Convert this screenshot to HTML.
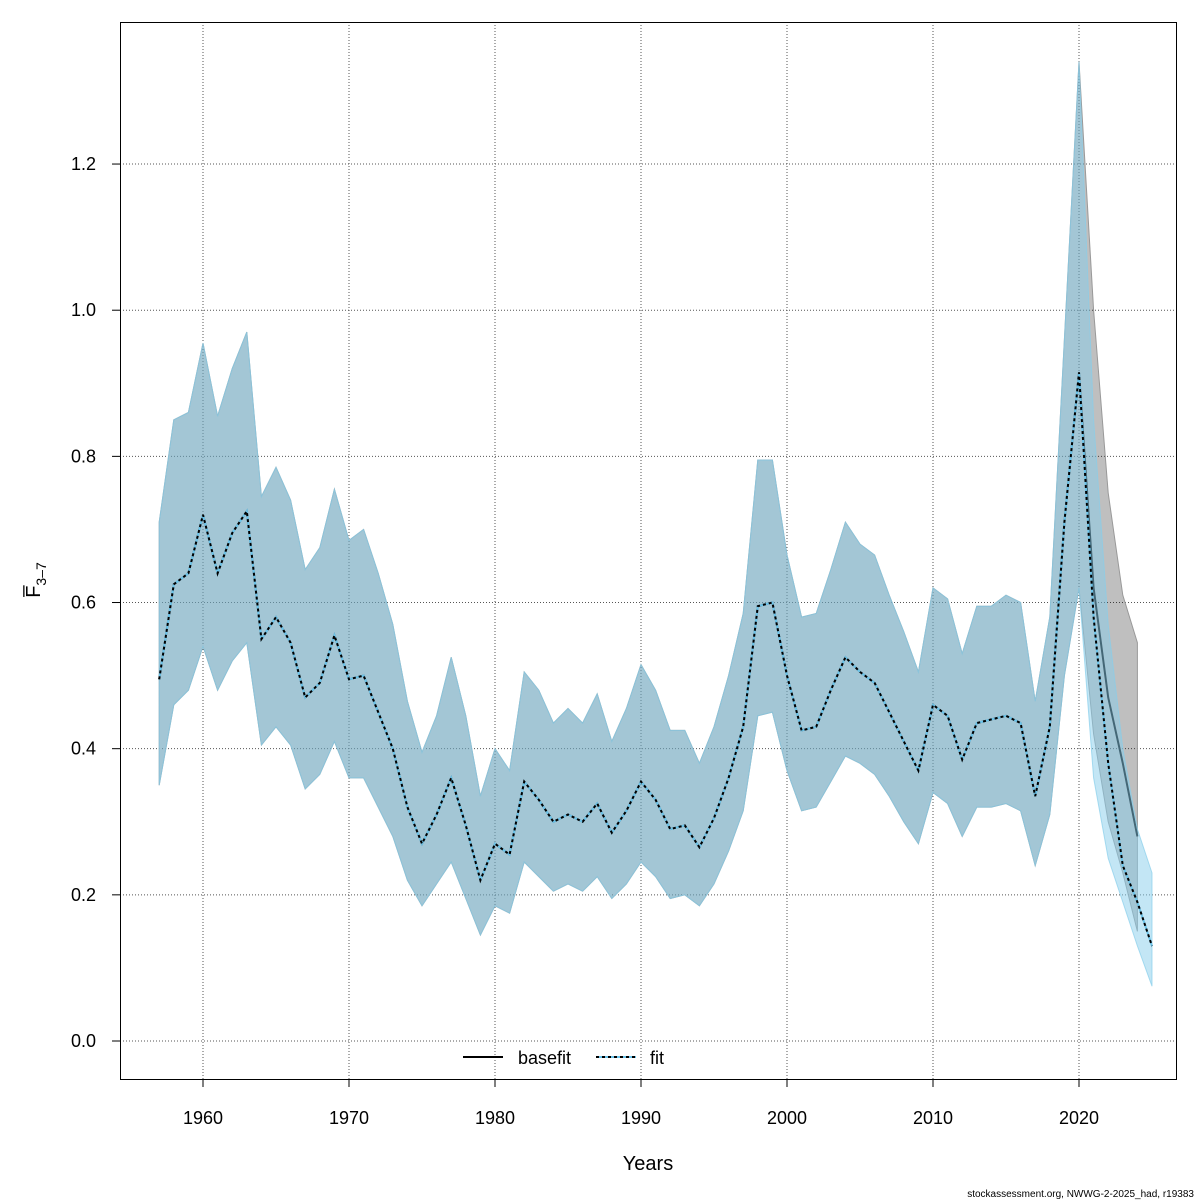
<!DOCTYPE html>
<html><head><meta charset="utf-8"><style>body{margin:0;background:#fff}svg{display:block}text{font-family:"Liberation Sans",sans-serif}</style></head>
<body>
<svg id="s" width="1200" height="1200" xmlns="http://www.w3.org/2000/svg"></svg>
<script>
const X=y=>203+(y-1960)*14.6, Y=v=>1041-v*730.8;
const mean=[0.495,0.625,0.64,0.72,0.64,0.695,0.725,0.55,0.58,0.545,0.47,0.49,0.555,0.495,0.5,0.45,0.4,0.32,0.27,0.31,0.36,0.295,0.22,0.27,0.255,0.355,0.33,0.3,0.31,0.3,0.325,0.285,0.315,0.355,0.33,0.29,0.295,0.265,0.305,0.36,0.43,0.595,0.6,0.5,0.425,0.43,0.48,0.525,0.505,0.49,0.45,0.41,0.37,0.46,0.445,0.385,0.435,0.44,0.445,0.435,0.335,0.43,0.71,0.915];
const up=[0.71,0.85,0.86,0.955,0.855,0.92,0.97,0.745,0.785,0.74,0.645,0.675,0.755,0.685,0.7,0.64,0.57,0.465,0.395,0.445,0.525,0.445,0.335,0.4,0.37,0.505,0.48,0.435,0.455,0.435,0.475,0.41,0.455,0.515,0.48,0.425,0.425,0.38,0.43,0.5,0.585,0.795,0.795,0.665,0.58,0.585,0.645,0.71,0.68,0.665,0.61,0.56,0.505,0.62,0.605,0.53,0.595,0.595,0.61,0.6,0.465,0.58,0.96,1.34];
const lo=[0.35,0.46,0.48,0.54,0.48,0.52,0.545,0.405,0.43,0.405,0.345,0.365,0.41,0.36,0.36,0.32,0.28,0.22,0.185,0.215,0.245,0.195,0.145,0.185,0.175,0.245,0.225,0.205,0.215,0.205,0.225,0.195,0.215,0.245,0.225,0.195,0.2,0.185,0.215,0.26,0.315,0.445,0.45,0.37,0.315,0.32,0.355,0.39,0.38,0.365,0.335,0.3,0.27,0.34,0.325,0.28,0.32,0.32,0.325,0.315,0.24,0.31,0.5,0.62];
const bm=mean.concat([0.62,0.47,0.38,0.28]), bu=up.concat([1.0,0.75,0.61,0.545]), bl=lo.concat([0.42,0.3,0.23,0.15]);
const fm=mean.concat([0.58,0.38,0.24,0.19,0.13]), fu=up.concat([0.85,0.57,0.4,0.29,0.23]), fl=lo.concat([0.36,0.25,0.19,0.13,0.075]);
const pts=a=>a.map((v,i)=>X(1957+i).toFixed(1)+","+Y(v).toFixed(1));
const poly=(u,l)=>pts(u).concat(pts(l).reverse()).join(" ");
let h='';
for(let y=1960;y<=2020;y+=10)h+=`<line x1="${X(y)}" y1="22" x2="${X(y)}" y2="1079" stroke="#555" stroke-width="1" stroke-dasharray="1,2"/>`;
for(let v=0;v<=1.21;v+=0.2)h+=`<line x1="120" y1="${Y(v)}" x2="1176" y2="${Y(v)}" stroke="#555" stroke-width="1" stroke-dasharray="1,2"/>`;
h+=`<polygon points="${poly(bu,bl)}" fill="rgba(0,0,0,0.25)" stroke="#999" stroke-width="1"/>`;
h+=`<polyline points="${pts(bm).join(" ")}" fill="none" stroke="#000" stroke-width="2"/>`;
h+=`<polygon points="${poly(fu,fl)}" fill="rgba(135,206,235,0.5)" stroke="rgba(135,206,235,0.7)" stroke-width="1"/>`;
h+=`<polyline points="${pts(fm).join(" ")}" fill="none" stroke="#6cc4ea" stroke-width="2"/>`;
h+=`<polyline points="${pts(fm).join(" ")}" fill="none" stroke="#000" stroke-width="2" stroke-dasharray="3,3"/>`;
h+=`<rect x="120.5" y="22.5" width="1056" height="1057" fill="none" stroke="#000"/>`;
for(let y=1960;y<=2020;y+=10)h+=`<line x1="${X(y)}" y1="1079" x2="${X(y)}" y2="1087" stroke="#000"/><text x="${X(y)}" y="1124" font-size="18" text-anchor="middle">${y}</text>`;
for(let i=0;i<=6;i++){let v=i*0.2;h+=`<line x1="112" y1="${Y(v)}" x2="120" y2="${Y(v)}" stroke="#000"/><text x="96" y="${Y(v)+6}" font-size="18" text-anchor="end">${v.toFixed(1)}</text>`;}
h+=`<text x="648" y="1170" font-size="20" text-anchor="middle">Years</text>`;
h+=`<text transform="translate(40,580) rotate(-90)" font-size="20" text-anchor="middle">F̅<tspan font-size="14" dy="6">3–7</tspan></text>`;
h+=`<line x1="463" y1="1057" x2="503" y2="1057" stroke="#000" stroke-width="2"/><text x="518" y="1064" font-size="18">basefit</text>`;
h+=`<line x1="596" y1="1057" x2="636" y2="1057" stroke="#6cc4ea" stroke-width="2"/><line x1="596" y1="1057" x2="636" y2="1057" stroke="#000" stroke-width="2" stroke-dasharray="3,3"/><text x="650" y="1064" font-size="18">fit</text>`;
h+=`<text x="1194" y="1197" font-size="10" text-anchor="end">stockassessment.org, NWWG-2-2025_had, r19383</text>`;
document.getElementById('s').innerHTML=h;
</script>
</body></html>
